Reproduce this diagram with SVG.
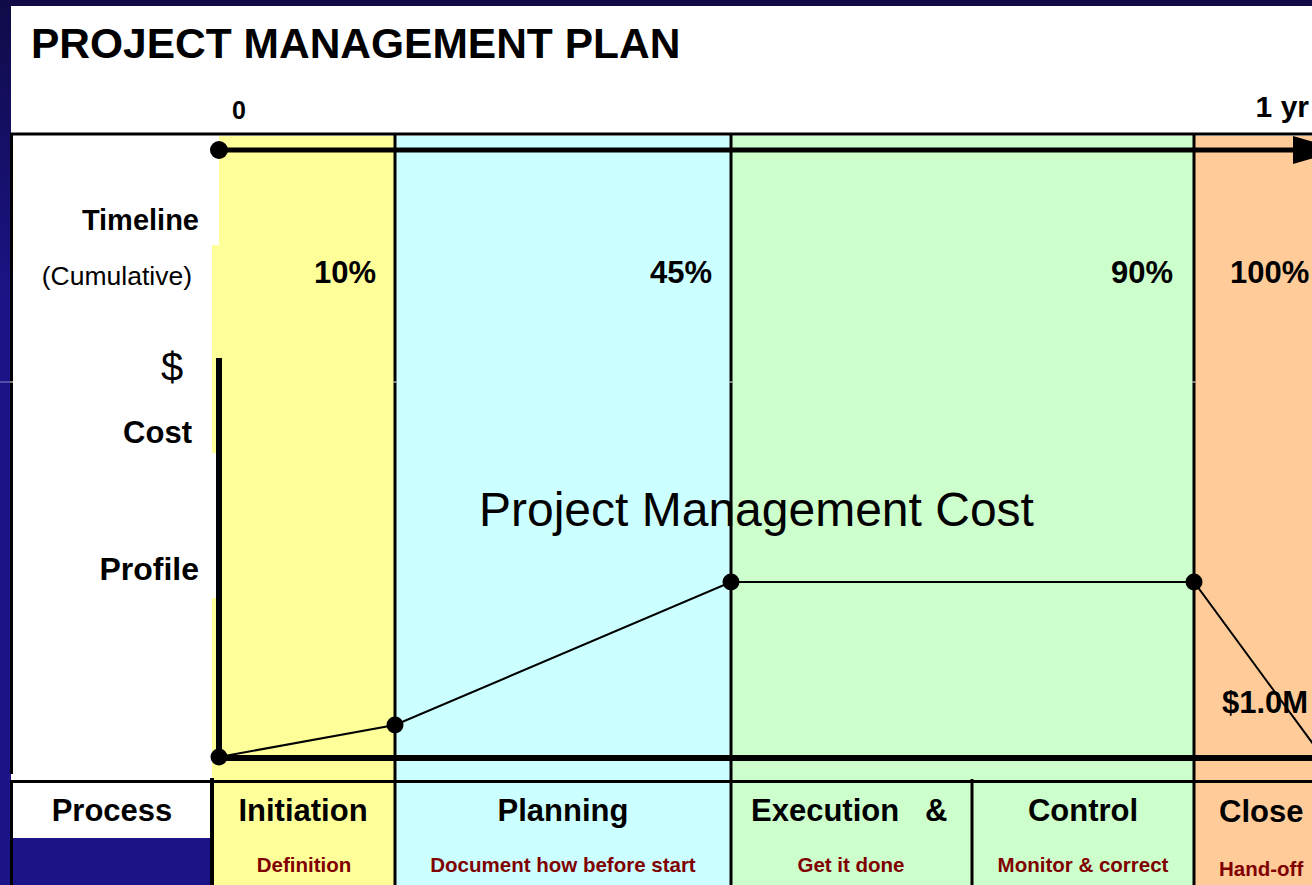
<svg xmlns="http://www.w3.org/2000/svg" width="1312" height="885" viewBox="0 0 1312 885">
<style>
text{font-family:"Liberation Sans",Arial,sans-serif;fill:#000}
.b{font-weight:bold}
.lbl{font-weight:bold;font-size:29px}
.pct{font-weight:bold;font-size:31px}
.ph{font-weight:bold;font-size:31px}
.sub{font-weight:bold;font-size:20.5px;fill:#800000}
.ln{fill:#000}
.cl{fill:none;stroke:#000;stroke-width:2}
</style>
<defs>
<linearGradient id="navy" x1="0" y1="0" x2="0" y2="1">
<stop offset="0" stop-color="#100b48"/>
<stop offset="0.35" stop-color="#1b1489"/>
<stop offset="1" stop-color="#1b1489"/>
</linearGradient>
</defs>
<rect x="0" y="0" width="1312" height="885" fill="url(#navy)"/>
<rect x="0" y="0" width="1312" height="6" fill="#100b48"/>
<rect x="11" y="6" width="1301" height="879" fill="#fff"/>

<g id="columns">
<g id="col-initiation">
<rect x="219" y="136" width="176" height="110" fill="#ffff99"/>
<rect x="212" y="245" width="183" height="640" fill="#ffff99"/>
<rect x="212" y="453" width="5" height="145" fill="#fff"/>
</g>
<g id="col-planning"><rect x="395" y="136" width="336" height="749" fill="#ccffff"/></g>
<g id="col-execution"><rect x="731" y="136" width="463" height="749" fill="#ccffcc"/></g>
<g id="col-close"><rect x="1194" y="136" width="118" height="749" fill="#ffcc99"/></g>
<g id="process-cell"><rect x="13" y="838" width="197" height="47" fill="#1b1489"/></g>
</g>

<g id="grid">
<rect class="ln" x="11" y="132.5" width="1301" height="3"/>
<rect class="ln" x="10" y="133" width="3" height="641"/>
<rect class="ln" x="10" y="780" width="3" height="105"/>
<rect class="ln" x="11" y="780" width="1301" height="3"/>
<rect class="ln" x="393.5" y="133" width="3" height="752"/>
<rect class="ln" x="729.5" y="133" width="3" height="752"/>
<rect class="ln" x="1192.5" y="133" width="3" height="752"/>
<rect class="ln" x="970.5" y="779" width="3" height="106"/>
<rect class="ln" x="210" y="778" width="4" height="107"/>
</g>

<g id="gaps" fill="#fff">
<rect x="0" y="381.5" width="14" height="1"/>
<rect x="216" y="381.5" width="6" height="1" fill="#ffff99"/>
<rect x="393.5" y="381.5" width="3" height="1"/>
<rect x="729.5" y="381.5" width="3" height="1"/>
<rect x="1192.5" y="381.5" width="3" height="1"/>
</g>
<rect x="0" y="381.5" width="10" height="1" fill="#1b1489"/>

<g id="labels">
<text x="31" y="58" class="b" font-size="42.5">PROJECT MANAGEMENT PLAN</text>
<text x="239" y="119" class="b" font-size="25" text-anchor="middle">0</text>
<text x="1309" y="117" class="b" font-size="30" text-anchor="end">1 yr</text>
<text x="199" y="230" class="lbl" text-anchor="end">Timeline</text>
<text x="192" y="285" font-size="26.5" text-anchor="end">(Cumulative)</text>
<text x="172" y="381" font-size="40" text-anchor="middle">$</text>
<text x="192" y="443" class="lbl" style="font-size:31px" text-anchor="end">Cost</text>
<text x="199" y="580" class="lbl" style="font-size:32px" text-anchor="end">Profile</text>
<text x="376" y="283" class="pct" text-anchor="end">10%</text>
<text x="712" y="283" class="pct" text-anchor="end">45%</text>
<text x="1173" y="283" class="pct" text-anchor="end">90%</text>
<text x="1230" y="283" class="pct">100%</text>
<text x="479" y="526" font-size="48">Project Management Cost</text>
<text x="1222" y="713" class="pct">$1.0M</text>
</g>

<g id="connectors">
<line x1="219" y1="150" x2="1295" y2="150" stroke="#000" stroke-width="5"/>
<polygon points="1293,136 1341,150 1293,164" fill="#000"/>
<circle cx="219" cy="150" r="9" fill="#000"/>
<line x1="219" y1="358" x2="219" y2="761" stroke="#000" stroke-width="6"/>
<line x1="219" y1="758" x2="1312" y2="758" stroke="#000" stroke-width="6"/>
<polyline class="cl" points="219,757 395,725 731,582 1194,582 1330,767"/>
<circle cx="219" cy="757" r="8.5" fill="#000"/>
<circle cx="395" cy="725" r="8.5" fill="#000"/>
<circle cx="731" cy="582" r="8.5" fill="#000"/>
<circle cx="1194" cy="582" r="8.5" fill="#000"/>
</g>

<g id="phases">
<g id="phase-process"><text x="112" y="821" class="ph" text-anchor="middle">Process</text></g>
<g id="phase-initiation">
<text x="303" y="821" class="ph" text-anchor="middle">Initiation</text>
<text x="304" y="872" class="sub" text-anchor="middle">Definition</text>
</g>
<g id="phase-planning">
<text x="563" y="821" class="ph" text-anchor="middle">Planning</text>
<text x="563" y="872" class="sub" text-anchor="middle">Document how before start</text>
</g>
<g id="phase-execution">
<text x="751" y="821" class="ph" xml:space="preserve">Execution   &amp;</text>
<text x="851" y="872" class="sub" text-anchor="middle">Get it done</text>
</g>
<g id="phase-control">
<text x="1083" y="821" class="ph" text-anchor="middle">Control</text>
<text x="1083" y="872" class="sub" text-anchor="middle">Monitor &amp; correct</text>
</g>
<g id="phase-close">
<text x="1219" y="822" class="ph">Close</text>
<text x="1219" y="876" class="sub">Hand-off</text>
</g>
</g>
</svg>
